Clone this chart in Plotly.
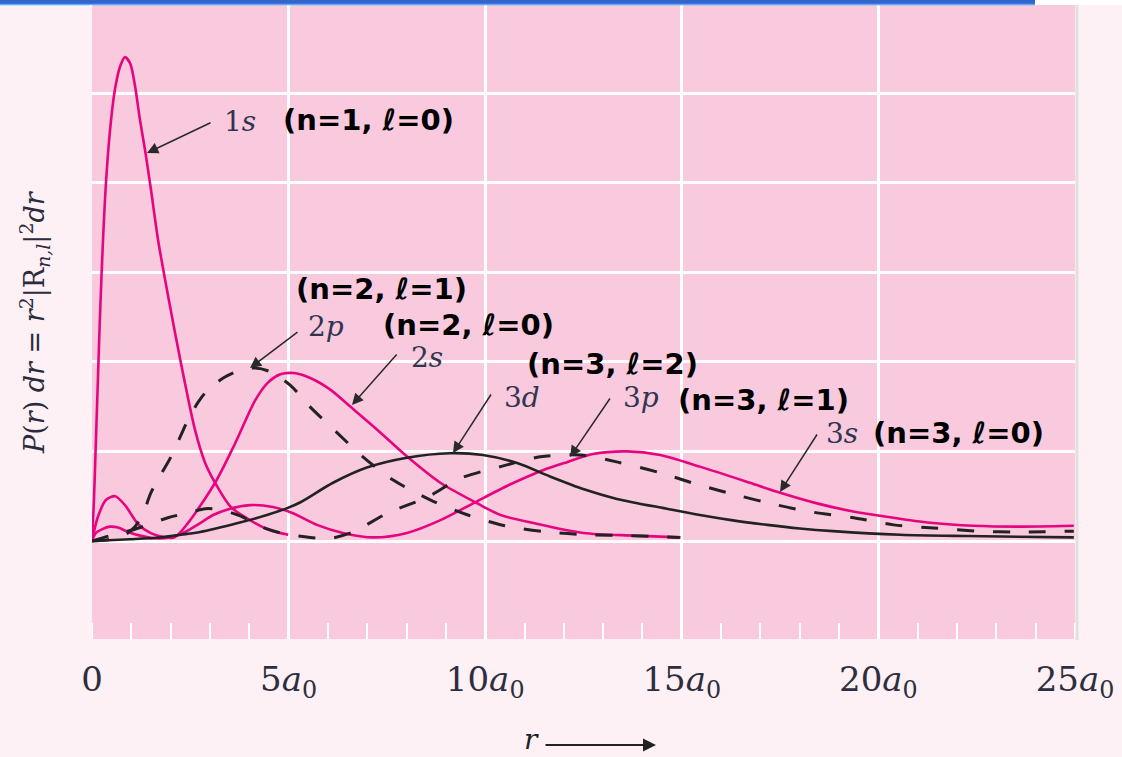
import plotly.graph_objects as go

# ---------------- data ----------------
r_1s = [0, 0.05, 0.10, 0.15, 0.20, 0.28, 0.36, 0.46, 0.58, 0.71, 0.84, 0.97, 1.09, 1.22, 1.35,
        1.50, 1.68, 1.98, 2.26, 2.62, 2.87, 3.13, 3.53, 4.15, 4.53, 4.99]
p_1s = [0, 0.46, 1.13, 1.80, 2.47, 3.36, 4.03, 4.59, 5.03, 5.29, 5.40, 5.33, 5.09, 4.70, 4.36,
        3.92, 3.36, 2.63, 1.99, 1.24, 0.88, 0.65, 0.38, 0.20, 0.12, 0.07]

r_2s = [0, 0.15, 0.36, 0.59, 0.84, 1.17, 1.48, 1.86, 2.10, 2.44, 3.13, 3.64, 4.15, 4.48, 4.79,
        5.12, 5.55, 6.06, 6.57, 7.26, 8.02, 8.86, 9.80, 10.39, 11.23, 12.50, 13.77, 14.97]
p_2s = [0, 0.27, 0.46, 0.50, 0.40, 0.19, 0.09, 0.04, 0.04, 0.20, 0.65, 1.09, 1.57, 1.77, 1.86,
        1.875, 1.82, 1.69, 1.50, 1.24, 0.94, 0.65, 0.42, 0.29, 0.20, 0.09, 0.06, 0.04]

r_2p = [0, 0.46, 0.84, 1.09, 1.30, 1.50, 1.75, 2.01, 2.24, 2.44, 2.70, 2.95, 3.38, 3.79, 4.15,
        4.53, 5.04, 5.54, 6.23, 6.89, 7.66, 8.60, 9.56, 10.50, 11.60, 12.61, 13.68, 14.95]
p_2p = [0, 0.02, 0.07, 0.16, 0.31, 0.54, 0.74, 0.94, 1.16, 1.35, 1.55, 1.69, 1.83, 1.91, 1.93,
        1.89, 1.74, 1.50, 1.21, 0.94, 0.68, 0.46, 0.29, 0.17, 0.10, 0.07, 0.06, 0.04]

r_3s = [0, 0.10, 0.25, 0.46, 0.66, 0.92, 1.22, 1.60, 1.98, 2.37, 2.75, 3.08, 3.43, 4.02, 4.60,
        5.11, 5.72, 6.38, 7.15, 8.01, 8.85, 9.69, 10.63, 11.47, 12.08, 12.74, 13.61, 14.45,
        15.46, 16.73, 17.42, 18.44, 19.46, 20.37, 21.39, 22.41, 23.52, 24.97]
p_3s = [0, 0.09, 0.13, 0.16, 0.15, 0.10, 0.06, 0.03, 0.04, 0.10, 0.20, 0.29, 0.35, 0.40, 0.38,
        0.31, 0.18, 0.09, 0.04, 0.09, 0.23, 0.42, 0.63, 0.79, 0.88, 0.97, 1.00, 0.96,
        0.83, 0.65, 0.55, 0.42, 0.32, 0.26, 0.20, 0.17, 0.16, 0.17]

r_3p = [0, 0.46, 1.00, 1.48, 1.93, 2.50, 2.88, 3.26, 3.77, 4.35, 4.90, 5.55, 6.06, 6.64, 7.51,
        8.53, 9.37, 10.39, 11.40, 12.42, 13.37, 14.46, 15.48, 16.42, 17.44, 18.36, 19.37,
        20.39, 21.41, 22.53, 23.55, 24.97]
p_3p = [0, 0.06, 0.12, 0.19, 0.26, 0.32, 0.36, 0.35, 0.28, 0.15, 0.08, 0.04, 0.03, 0.10, 0.31,
        0.49, 0.70, 0.83, 0.94, 0.96, 0.88, 0.76, 0.62, 0.51, 0.40, 0.32, 0.26,
        0.18, 0.145, 0.11, 0.10, 0.11]

r_3d = [0, 0.97, 1.73, 2.26, 2.75, 3.71, 4.45, 4.98, 5.29, 6.13, 6.99, 8.01, 9.10, 9.94, 10.81,
        11.65, 12.49, 13.35, 14.62, 15.46, 16.30, 17.17, 18.00, 18.85, 20.55, 22.25, 24.97]
p_3d = [0, 0.02, 0.04, 0.07, 0.10, 0.20, 0.29, 0.37, 0.43, 0.65, 0.82, 0.93, 0.98, 0.96, 0.87,
        0.72, 0.58, 0.47, 0.36, 0.29, 0.23, 0.18, 0.14, 0.11, 0.07, 0.055, 0.04]

x_tickvals = [0, 5, 10, 15, 20, 25]
x_ticktext = ["0", "5<i>a</i><sub>0</sub>", "10<i>a</i><sub>0</sub>", "15<i>a</i><sub>0</sub>",
              "20<i>a</i><sub>0</sub>", "25<i>a</i><sub>0</sub>"]
y_gridvals = [0, 1, 2, 3, 4, 5, 6]

# ---------------- styling / layout ----------------
W, H = 1122, 757
L, R, T, B = 92, 1075, 5, 639
PW, PH = R - L, B - T

PINK = "#e6057f"
BLACK = "#222222"
SERIF = "DejaVu Serif"
SANS = "DejaVu Sans"
LABEL_COL = "#30354f"


def px(X, Y):
    return (X - L) / PW, (B - Y) / PH


fig = go.Figure()

for rr, pp in [(r_1s, p_1s), (r_2s, p_2s), (r_3s, p_3s)]:
    fig.add_trace(go.Scatter(x=rr, y=pp, mode="lines",
                             line=dict(color=PINK, width=2.6, shape="spline", smoothing=0.8),
                             hoverinfo="skip", showlegend=False))
for rr, pp in [(r_2p, p_2p), (r_3p, p_3p)]:
    fig.add_trace(go.Scatter(x=rr, y=pp, mode="lines",
                             line=dict(color=BLACK, width=3, dash="17px,19px", shape="spline",
                                       smoothing=0.8),
                             hoverinfo="skip", showlegend=False))
fig.add_trace(go.Scatter(x=r_3d, y=p_3d, mode="lines",
                         line=dict(color=BLACK, width=2.6, shape="spline", smoothing=0.8),
                         hoverinfo="skip", showlegend=False))

annotations = []

for txt, X, Y in [("1<i>s</i>", 240, 122), ("2<i>p</i>", 326, 327), ("2<i>s</i>", 427, 357),
                  ("3<i>d</i>", 522, 398), ("3<i>p</i>", 641, 398), ("3<i>s</i>", 842, 433)]:
    x, y = px(X, Y)
    annotations.append(dict(x=x, y=y, xref="paper", yref="paper", text=txt, showarrow=False,
                            xanchor="center", yanchor="middle",
                            font=dict(family=SERIF, size=28, color=LABEL_COL)))

for txt, X, Y in [("(n=1, ℓ=0)", 368, 120), ("(n=2, ℓ=1)", 381, 289), ("(n=2, ℓ=0)", 468, 325),
                  ("(n=3, ℓ=2)", 612, 364), ("(n=3, ℓ=1)", 763, 400), ("(n=3, ℓ=0)", 958, 433)]:
    x, y = px(X, Y)
    annotations.append(dict(x=x, y=y, xref="paper", yref="paper", text="<b>" + txt + "</b>",
                            showarrow=False, xanchor="center", yanchor="middle",
                            font=dict(family=SANS, size=29, color="#000000")))

for (Xt, Yt), (Xh, Yh) in [((212, 122), (147, 153)), ((299, 331), (250, 368)),
                           ((398, 353), (352, 405)), ((492, 393), (453, 453)),
                           ((611, 397), (570, 457)), ((818, 433), (780, 492))]:
    x, y = px(Xh, Yh)
    annotations.append(dict(x=x, y=y, xref="paper", yref="paper", text="", showarrow=True,
                            ax=Xt - Xh, ay=Yt - Yh, axref="pixel", ayref="pixel",
                            arrowhead=2, arrowsize=1.5, arrowwidth=1.5, arrowcolor="#2a2a2a",
                            standoff=0, startstandoff=0))

x, y = px(34, 322)
annotations.append(dict(x=x, y=y, xref="paper", yref="paper", textangle=-90, showarrow=False,
                        xanchor="center", yanchor="middle",
                        text="<i>P</i>(<i>r</i>) <i>dr</i> = <i>r</i><sup>2</sup>|R<sub><i>n,l</i></sub>|<sup>2</sup><i>dr</i>",
                        font=dict(family=SERIF, size=27, color="#2b2b3b")))

x, y = px(531, 740)
annotations.append(dict(x=x, y=y, xref="paper", yref="paper", text="<i>r</i>", showarrow=False,
                        xanchor="center", yanchor="middle",
                        font=dict(family=SERIF, size=28, color="#222222")))
x, y = px(656, 745)
annotations.append(dict(x=x, y=y, xref="paper", yref="paper", text="", showarrow=True,
                        ax=-112, ay=0, axref="pixel", ayref="pixel",
                        arrowhead=2, arrowsize=1.3, arrowwidth=2, arrowcolor="#222222",
                        standoff=0, startstandoff=0))

x, y = px(6, 768)
annotations.append(dict(x=x, y=y, xref="paper", yref="paper", text="6", showarrow=False,
                        xanchor="center", yanchor="middle",
                        font=dict(family=SERIF, size=30, color="#222222")))

shapes = []
x0, y0 = px(0, 0)
x1, y1 = px(1035, 4)
shapes.append(dict(type="rect", xref="paper", yref="paper", x0=x0, y0=y0, x1=x1, y1=y1,
                   fillcolor="#3366cc", line=dict(width=0), layer="above"))
x0, y0 = px(0, 4.5)
x1, y1 = px(1035, 4.5)
shapes.append(dict(type="line", xref="paper", yref="paper", x0=x0, y0=y0, x1=x1, y1=y1,
                   line=dict(color="#5aa8ff", width=1.5), layer="above"))
x0, y0 = px(1035, 0)
x1, y1 = px(1122, 5)
shapes.append(dict(type="rect", xref="paper", yref="paper", x0=x0, y0=y0, x1=x1, y1=y1,
                   fillcolor="#ffffff", line=dict(width=0), layer="above"))
x0, y0 = px(1077, 5)
x1, y1 = px(1077, 640)
shapes.append(dict(type="line", xref="paper", yref="paper", x0=x0, y0=y0, x1=x1, y1=y1,
                   line=dict(color="#e4e0e2", width=3), layer="above"))
x0, y0 = px(90.5, 5)
x1, y1 = px(90.5, 639)
shapes.append(dict(type="line", xref="paper", yref="paper", x0=x0, y0=y0, x1=x1, y1=y1,
                   line=dict(color="#fdf1f5", width=3), layer="above"))

fig.update_layout(
    width=W, height=H,
    margin=dict(l=L, r=W - R, t=T, b=H - B, pad=0),
    paper_bgcolor="#fdf1f5",
    plot_bgcolor="#f9c9de",
    showlegend=False,
    annotations=annotations,
    shapes=shapes,
    xaxis=dict(range=[0, 25], tickvals=x_tickvals, ticktext=x_ticktext,
               showgrid=True, gridcolor="#ffffff", gridwidth=3, zeroline=False,
               showline=False, ticks="", ticklabelstandoff=17,
               tickfont=dict(family=SERIF, size=34, color="#2e2e3e"),
               minor=dict(dtick=1, tick0=0, ticks="inside", ticklen=16, tickwidth=2,
                          tickcolor="#ffffff", showgrid=False),
               fixedrange=True),
    yaxis=dict(range=[(541 - 639) / 89.6, (541 - 5) / 89.6], tickvals=y_gridvals,
               showticklabels=False, showgrid=True, gridcolor="#ffffff", gridwidth=3,
               zeroline=False, showline=False, ticks="", fixedrange=True),
)

fig.write_html("out.html", config={"displayModeBar": False},
               post_script="document.body.style.margin='0';document.body.style.overflow='hidden';")
